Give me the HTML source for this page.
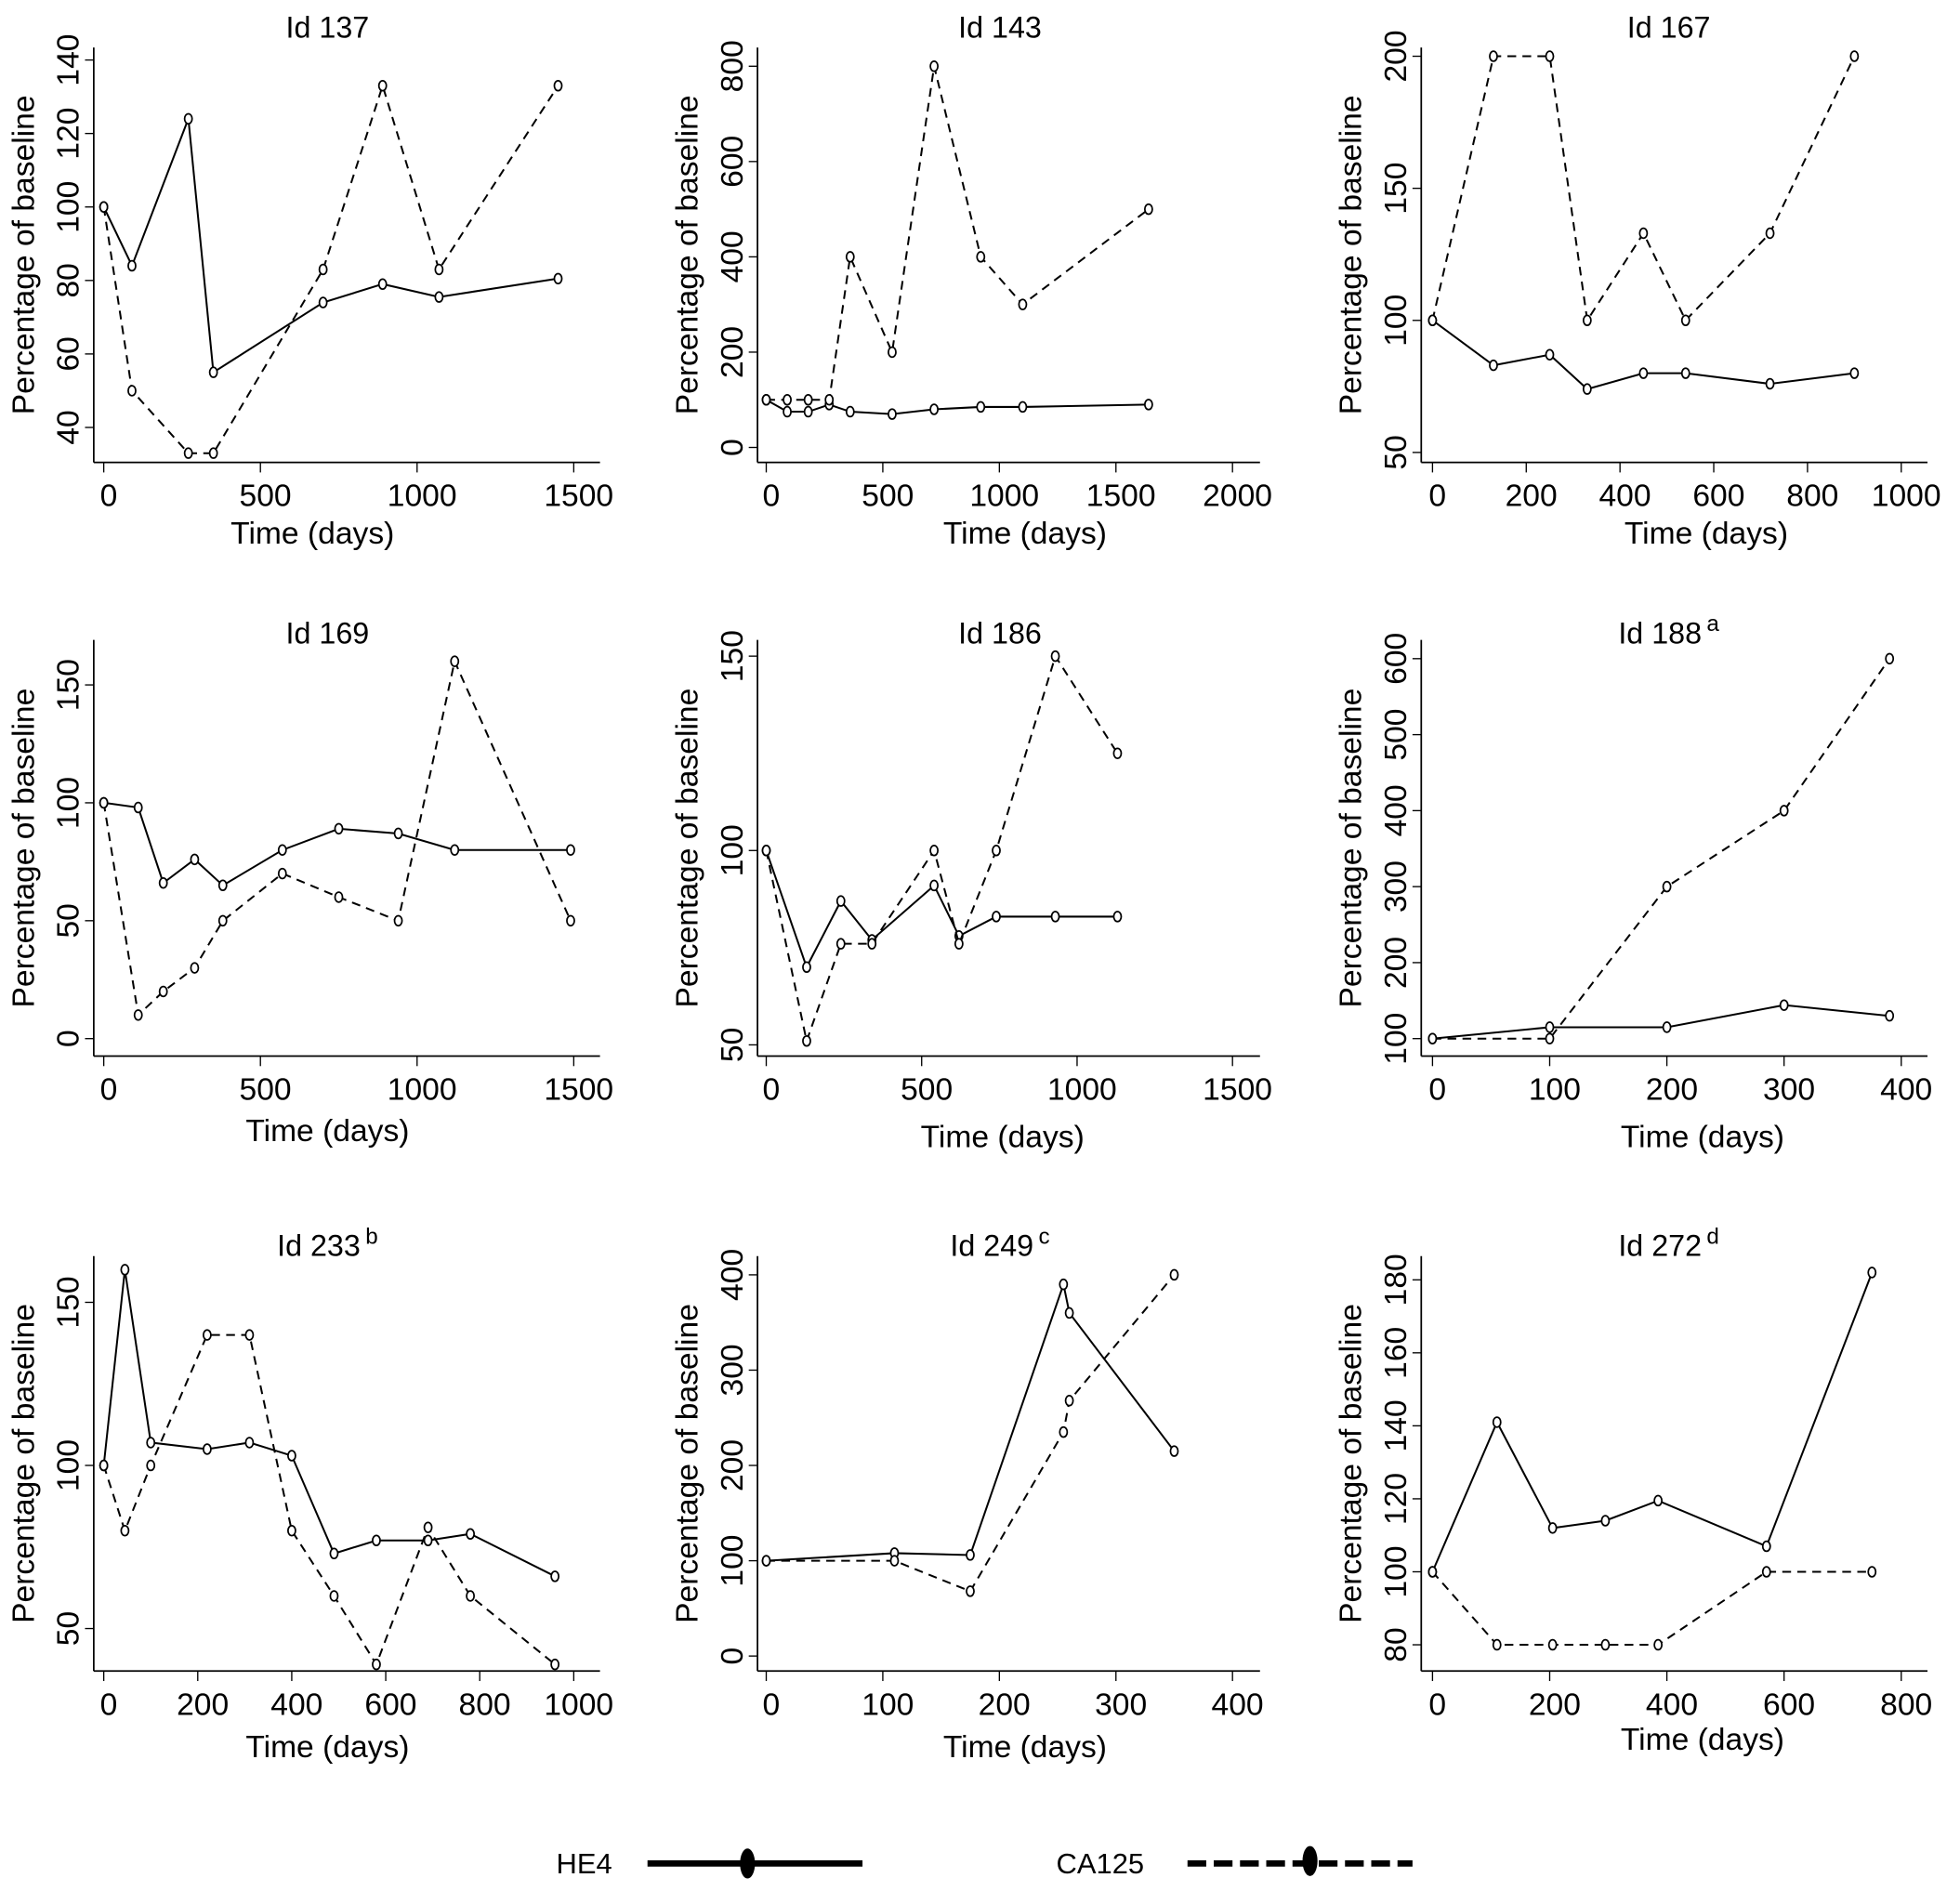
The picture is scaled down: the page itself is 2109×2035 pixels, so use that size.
<!DOCTYPE html>
<html><head><meta charset="utf-8"><style>
html,body{margin:0;padding:0;background:#fff}
svg{display:block}
text{font-family:"Liberation Sans",Arial,sans-serif;fill:#000}
</style></head><body>
<svg id="chart" width="2109" height="2035" viewBox="0 0 1568 1513" preserveAspectRatio="none" xmlns="http://www.w3.org/2000/svg">
<g>
  <text x="445" y="1499" font-size="23">HE4</text>
  <line x1="518" y1="1491" x2="690" y2="1491" stroke="#000" stroke-width="5"/>
  <ellipse cx="598" cy="1491" rx="6" ry="12" fill="#000"/>
  <text x="845" y="1499" font-size="23">CA125</text>
  <line x1="950" y1="1491" x2="1130" y2="1491" stroke="#000" stroke-width="5" stroke-dasharray="15,6"/>
  <ellipse cx="1048" cy="1489" rx="6" ry="12" fill="#000"/>
</g>
</svg>
<script>
// Data arrays
const panelIds = ["137","143","167","169","186","188","233","249","272"];
const panelSup = ["","","","","","a","b","c","d"];
const xTicks = [[0,500,1000,1500],[0,500,1000,1500,2000],[0,200,400,600,800,1000],[0,500,1000,1500],[0,500,1000,1500],[0,100,200,300,400],[0,200,400,600,800,1000],[0,100,200,300,400],[0,200,400,600,800]];
const yTicks = [[40,60,80,100,120,140],[0,200,400,600,800],[50,100,150,200],[0,50,100,150],[50,100,150],[100,200,300,400,500,600],[50,100,150],[0,100,200,300,400],[80,100,120,140,160,180]];
const he4Days = [
 [0,90,270,350,700,890,1070,1450],
 [0,90,180,270,360,540,720,920,1100,1640],
 [0,130,250,330,450,540,720,900],
 [0,110,190,290,380,570,750,940,1120,1490],
 [0,130,240,340,540,620,740,930,1130],
 [0,100,200,300,390],
 [0,45,100,220,310,400,490,580,690,780,960],
 [0,110,175,255,260,350],
 [0,110,205,295,385,570,750]];
const he4Vals = [
 [100,84,124,55,74,79,75.5,80.5],
 [100,75,75,90,75,70,80,85,85,90],
 [100,83,87,74,80,80,76,80],
 [100,98,66,76,65,80,89,87,80,80],
 [100,70,87,77,91,78,83,83,83],
 [100,115,115,144,130],
 [100,160,107,105,107,103,73,77,77,79,66],
 [100,108,106,390,360,215],
 [100,141,112,114,119.5,107,182]];
const caDays = [
 [0,90,270,350,700,890,1070,1450],
 [0,90,180,270,360,540,720,920,1100,1640],
 [0,130,250,330,450,540,720,900],
 [0,110,190,290,380,570,750,940,1120,1490],
 [0,130,240,340,540,620,740,930,1130],
 [0,100,200,300,390],
 [0,45,100,220,310,400,490,580,690,780,960],
 [0,110,175,255,260,350],
 [0,110,205,295,385,570,750]];
const caVals = [
 [100,50,33,33,83,133,83,133],
 [100,100,100,100,400,200,800,400,300,500],
 [100,200,200,100,133,100,133,200],
 [100,10,20,30,50,70,60,50,160,50],
 [100,51,76,76,100,76,100,150,125],
 [100,100,300,400,600],
 [100,80,100,140,140,80,60,39,81,60,39],
 [100,100,68,235,268,400],
 [100,80,80,80,80,100,100]];

// Layout (pixel geometry, not data)
const colAxisX=[75,606,1137], colX0=[83,613,1146], colX1=[459,986,1521], colRight=[480,1008,1542], colCenter=[262,800,1335];
const rowTop=[38,512,1005], rowBottom=[370,845,1337], rowTitle=[30,515,1005];
const xTitlePos=[[250,427],[820,427],[1365,427],[262,905],[802,910],[1362,910],[262,1398],[820,1398],[1362,1392]];
const yPix=[[342,48],[358,53],[362,45],[831,548],[836,525],[831,527],[1303,1042],[1325,1020],[1316,1024]];

const svg=document.getElementById('chart');
const NS='http://www.w3.org/2000/svg';
function mk(tag,attrs,parent){const e=document.createElementNS(NS,tag);for(const k in attrs)e.setAttribute(k,attrs[k]);parent.appendChild(e);return e;}

panelIds.forEach((id,i)=>{
  const c=i%3,r=Math.floor(i/3);
  const g=mk('g',{},svg);
  
  
  const xt=xTicks[i],yt=yTicks[i];
  const xmin=xt[0],xmax=xt[xt.length-1],ymin=yt[0],ymax=yt[yt.length-1];
  const sx=v=>colX0[c]+(v-xmin)/(xmax-xmin)*(colX1[c]-colX0[c]);
  const sy=v=>yPix[i][0]+(v-ymin)/(ymax-ymin)*(yPix[i][1]-yPix[i][0]);
  const ax=colAxisX[c],bot=rowBottom[r],top=rowTop[r];
  const t=mk('text',{x:colCenter[c],y:rowTitle[r],'font-size':24,'text-anchor':'middle'},g);
  t.textContent='Id '+id;
  
  
  if(panelSup[i]){const s=mk('tspan',{dx:4,dy:-10,'font-size':18},t);s.textContent=panelSup[i];}
  const ya=mk('line',{x1:ax,y1:top,x2:ax,y2:bot,stroke:'#000','stroke-width':1.3},g);
  
  
  const xa=mk('line',{x1:ax,y1:bot,x2:colRight[c],y2:bot,stroke:'#000','stroke-width':1.3},g);
  
  
  xt.forEach(v=>{
    const x=sx(v);
    mk('line',{x1:x,y1:bot,x2:x,y2:bot+8,stroke:'#000','stroke-width':1},g);
    const l=mk('text',{x:x+4,y:bot+35,'font-size':25,'text-anchor':'middle'},g);
    l.textContent=v;
    
    
  });
  yt.forEach(v=>{
    const y=sy(v);
    mk('line',{x1:ax-7,y1:y,x2:ax,y2:y,stroke:'#000','stroke-width':1},g);
    const l=mk('text',{x:0,y:0,'font-size':25,'text-anchor':'middle',transform:`translate(${ax-12},${y}) rotate(-90)`},g);
    l.textContent=v;
    
    
  });
  const xl=mk('text',{x:xTitlePos[i][0],y:xTitlePos[i][1]+8,'font-size':25,'text-anchor':'middle'},g);
  xl.textContent='Time (days)';
  
  
  const yl=mk('text',{x:0,y:0,'font-size':25,'text-anchor':'middle',transform:`translate(${ax-48},${(top+bot)/2}) rotate(-90)`},g);
  yl.textContent='Percentage of baseline';
  
  
  [[he4Days[i],he4Vals[i],'he4',null],[caDays[i],caVals[i],'ca125','7,5']].forEach(([ds,vs,nm,dash])=>{
    const pts=ds.map((d,k)=>sx(d).toFixed(1)+','+sy(vs[k]).toFixed(1)).join(' ');
    const a={points:pts,fill:'none',stroke:'#000','stroke-width':1.5};
    if(dash)a['stroke-dasharray']=dash;
    const pl=mk('polyline',a,g);
    
    
    ds.forEach((d,k)=>{
      const m=mk('ellipse',{cx:sx(d),cy:sy(vs[k]),rx:3,ry:4,fill:'#fff',stroke:'#000','stroke-width':1.3},g);
      
      
    });
  });
});
</script>
</body></html>
